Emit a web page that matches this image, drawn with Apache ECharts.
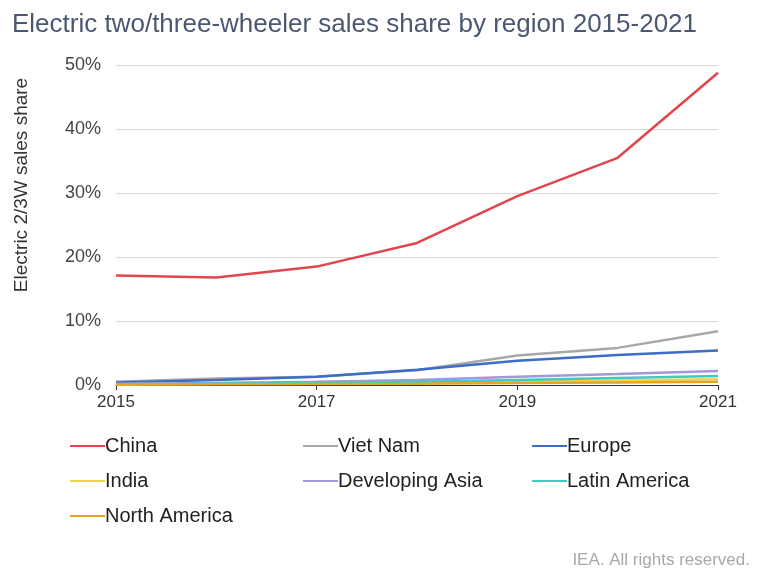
<!DOCTYPE html>
<html><head><meta charset="utf-8">
<script src="https://cdn.jsdelivr.net/npm/echarts@6/dist/echarts.min.js"></script>
<style>html,body{margin:0;padding:0;background:#fff}#c{width:759px;height:569px}</style>
</head><body><div id="c"></div>
<script>
const years = ['2015','2016','2017','2018','2019','2020','2021'];
const china = [17.1, 16.8, 18.5, 22.2, 29.5, 35.5, 48.8];
const vietNam = [0.5, 1.0, 1.3, 2.3, 4.6, 5.8, 8.4];
const europe = [0.4, 0.8, 1.3, 2.4, 3.8, 4.7, 5.4];
const india = [0.1, 0.2, 0.3, 0.4, 0.5, 0.7, 0.9];
const developingAsia = [0.2, 0.3, 0.5, 0.8, 1.3, 1.7, 2.2];
const latinAmerica = [0.1, 0.2, 0.3, 0.5, 0.8, 1.1, 1.4];
const northAmerica = [0.05, 0.1, 0.15, 0.2, 0.3, 0.4, 0.5];
const yTicks = ['0%','10%','20%','30%','40%','50%'];

const names = ['China','Viet Nam','Europe','India','Developing Asia','Latin America','North America'];
const datas = [china, vietNam, europe, india, developingAsia, latinAmerica, northAmerica];
const colors = ['#E0464B','#A8A8A8','#3D6DC6','#F3D34A','#A597DA','#3ECBC4','#E2A52A'];
const legendPos = [[65,431],[298,431],[527,431],[65,466],[298,466],[527,466],[65,501]];
const font = 'Liberation Sans, Arial, sans-serif';

const chart = echarts.init(document.getElementById('c'));
const order = [6,5,3,4,2,1,0];
chart.setOption({
  animation:false,
  textStyle:{fontFamily:font},
  title:[{text:'Electric two/three-wheeler sales share by region 2015-2021',left:7,top:7,
    textStyle:{fontFamily:font,fontSize:26,fontWeight:'normal',color:'#4A5872'}},
    {text:'IEA. All rights reserved.',right:4,top:547,textStyle:{fontFamily:font,fontSize:17,fontWeight:'normal',color:'#A8A8A8'}}],
  graphic:[{type:'text',x:22,y:185,rotation:Math.PI/2,
    style:{text:'Electric 2/3W sales share',fontFamily:font,fontSize:19,fill:'#333',align:'center',verticalAlign:'middle'}}],
  grid:{left:116,right:41,top:65,bottom:184},
  legend: names.map((n,i)=>({data:[n],left:legendPos[i][0],top:legendPos[i][1],itemWidth:35,itemHeight:2,itemGap:0,
    icon:'rect',textStyle:{fontFamily:font,fontSize:20,color:'#222',padding:[0,0,0,-5]}})),
  xAxis:{type:'category',data:years,boundaryGap:false,
    axisLine:{lineStyle:{color:'#333',width:1}},
    axisTick:{show:true,length:5,lineStyle:{color:'#333'}},
    axisLabel:{interval:1,fontSize:17,color:'#333',margin:9,fontFamily:font},
    splitLine:{show:false}},
  yAxis:{type:'value',min:0,max:50,interval:10,
    axisLine:{show:false},axisTick:{show:false},
    axisLabel:{fontSize:18,color:'#444',margin:15,fontFamily:font,formatter:v=>yTicks[v/10]},
    splitLine:{lineStyle:{color:'#D9D9D9',width:1}}},
  series: order.map(i=>({name:names[i],type:'line',data:datas[i],showSymbol:false,symbol:'none',
    lineStyle:{color:colors[i],width:2.5},itemStyle:{color:colors[i]},z:2+i}))
});
</script></body></html>
